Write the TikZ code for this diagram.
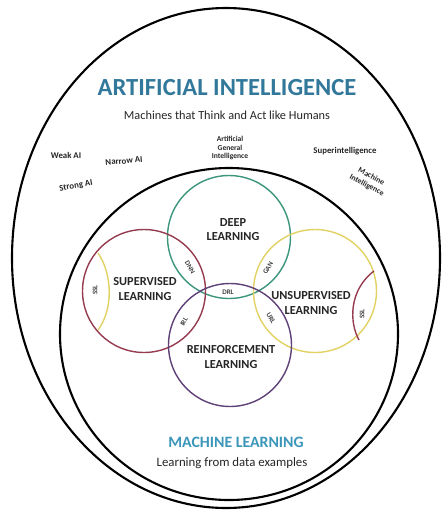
\documentclass[tikz,border=0pt]{standalone}
\usepackage{fontspec}
\setmainfont{Carlito}
\usetikzlibrary{positioning}
\definecolor{aiblue}{RGB}{50,120,155}
\definecolor{mlblue}{RGB}{60,150,185}
\definecolor{dlgreen}{RGB}{60,150,125}
\definecolor{slred}{RGB}{150,60,80}
\definecolor{ulyellow}{RGB}{225,210,100}
\definecolor{rlpurple}{RGB}{95,65,120}
\tikzset{field/.style={circle,minimum size=2.46cm,line width=0.8pt}}
\tikzset{fieldname/.style={font=\fontsize{7}{8}\selectfont\bfseries,align=center,text=black!85,inner sep=0pt}}
\tikzset{tag/.style={font=\fontsize{4}{4.5}\selectfont\bfseries,text=black!75,inner sep=0pt}}
\tikzset{aitype/.style={font=\fontsize{5}{5.5}\selectfont\bfseries,align=center,text=black!85,inner sep=0pt}}
\tikzset{subtitle/.style={font=\fontsize{7.3}{8}\selectfont,text=black!85,inner sep=0pt}}

\begin{document}
\begin{tikzpicture}[x={(0.02cm,0)},y={(0,-0.02cm)}]
  \useasboundingbox (0,0) rectangle (446,511);
  % the two big fields
  \draw[line width=1.2pt] (226,258) ellipse (214 and 250);
  \draw[line width=1.2pt] (229,334) ellipse (169 and 166);

  \node[font=\fontsize{14}{16}\selectfont\bfseries,text=aiblue,inner sep=0pt] (ai) at (227,88) {ARTIFICIAL INTELLIGENCE};
  \node[subtitle,font=\fontsize{7}{8}\selectfont] (aisub) at (227,115) {Machines that Think and Act like Humans};

  \node[aitype] (weak) at (66,155) {Weak AI};
  \node[aitype,rotate=5] (narrow) at (124,161) {Narrow AI};
  \node[aitype,rotate=10] (strong) at (76,186) {Strong AI};
  \node[aitype,font=\fontsize{4.3}{5}\selectfont\bfseries] (agi) at (230,148) {Artificial\\General\\Intelligence};
  \node[aitype] (super) at (345,151) {Superintelligence};
  \node[aitype,rotate=-28,font=\fontsize{4.5}{5.5}\selectfont\bfseries] (mi) at (369,181) {Machine\\Intelligence};

  % learning fields
  \node[field,draw=dlgreen] (dl) at (229,237) {};
  \node[field,draw=slred] (sl) at (144,291) {};
  \node[field,draw=ulyellow] (ul) at (315,291) {};
  \node[field,draw=rlpurple] (rl) at (230,345) {};

  \node[fieldname] (dlname) at (233,230) {DEEP\\LEARNING};
  \node[fieldname] (slname) at (145,289) {SUPERVISED\\LEARNING};
  \node[fieldname] (ulname) at (311,303) {UNSUPERVISED\\LEARNING};
  \node[fieldname] (rlname) at (231,357) {REINFORCEMENT\\LEARNING};

  % semi-supervised arcs
  \draw[ulyellow,line width=0.8pt] (98,253) .. controls (113,275) and (113,310) .. (98,330);
  \draw[slred,line width=0.8pt] (374,271) .. controls (349,290) and (349,322) .. (359,340);

  \node[tag,rotate=90] (sslleft) at (95,290) {SSL};
  \node[tag,rotate=90] (sslright) at (362,314) {SSL};
  \node[tag,rotate=-60] (dnn) at (190,267) {DNN};
  \node[tag,rotate=60] (gan) at (268,268) {GAN};
  \node[tag] (drl) at (228,292) {DRL};
  \node[tag,rotate=60] (irl) at (184,322) {IRL};
  \node[tag,rotate=-60] (url) at (271,318) {URL};

  \node[font=\fontsize{9}{10}\selectfont\bfseries,text=mlblue,inner sep=0pt] (ml) at (236,442) {MACHINE LEARNING};
  \node[subtitle] (mlsub) at (232,463) {Learning from data examples};
\end{tikzpicture}
\end{document}
